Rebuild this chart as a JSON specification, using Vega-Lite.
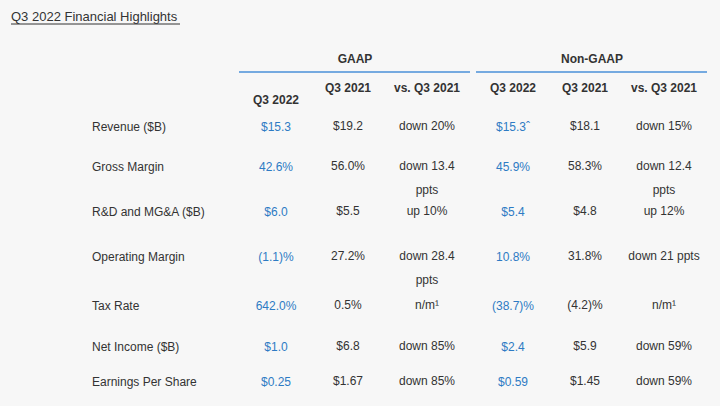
{
  "$schema": "https://vega.github.io/schema/vega-lite/v6.json",
  "width": 720,
  "height": 406,
  "autosize": {"type": "fit", "contains": "padding"},
  "padding": 0,
  "background": "#f7f7f7",
  "config": {"view": {"stroke": null}},
  "datasets": {
    "cells": [
      {"row": 0, "col": 0, "part": "title", "v": "Q3 2022 Financial Highlights"},
      {"row": 2, "col": 6, "part": "head", "v": "GAAP"},
      {"row": 2, "col": 12, "part": "head", "v": "Non-GAAP"},
      {"row": 5, "col": 4, "part": "head", "v": "Q3 2022"},
      {"row": 4, "col": 5, "part": "head", "v": "Q3 2021"},
      {"row": 4, "col": 7, "part": "head", "v": "vs. Q3 2021"},
      {"row": 4, "col": 10, "part": "head", "v": "Q3 2022"},
      {"row": 4, "col": 11, "part": "head", "v": "Q3 2021"},
      {"row": 4, "col": 13, "part": "head", "v": "vs. Q3 2021"},

      {"row": 6, "col": 1, "part": "label", "v": "Revenue ($B)"},
      {"row": 6, "col": 4, "part": "current", "v": "$15.3"},
      {"row": 6, "col": 5, "part": "prior", "v": "$19.2"},
      {"row": 6, "col": 7, "part": "prior", "v": "down 20%"},
      {"row": 6, "col": 10, "part": "current", "v": "$15.3ˆ"},
      {"row": 6, "col": 11, "part": "prior", "v": "$18.1"},
      {"row": 6, "col": 13, "part": "prior", "v": "down 15%"},

      {"row": 7, "col": 1, "part": "label", "v": "Gross Margin"},
      {"row": 7, "col": 4, "part": "current", "v": "42.6%"},
      {"row": 7, "col": 5, "part": "prior", "v": "56.0%"},
      {"row": 7, "col": 7, "part": "prior", "v": "down 13.4\nppts"},
      {"row": 7, "col": 10, "part": "current", "v": "45.9%"},
      {"row": 7, "col": 11, "part": "prior", "v": "58.3%"},
      {"row": 7, "col": 13, "part": "prior", "v": "down 12.4\nppts"},

      {"row": 8, "col": 1, "part": "label", "v": "R&D and MG&A ($B)"},
      {"row": 8, "col": 4, "part": "current", "v": "$6.0"},
      {"row": 8, "col": 5, "part": "prior", "v": "$5.5"},
      {"row": 8, "col": 7, "part": "prior", "v": "up 10%"},
      {"row": 8, "col": 10, "part": "current", "v": "$5.4"},
      {"row": 8, "col": 11, "part": "prior", "v": "$4.8"},
      {"row": 8, "col": 13, "part": "prior", "v": "up 12%"},

      {"row": 9, "col": 1, "part": "label", "v": "Operating Margin"},
      {"row": 9, "col": 4, "part": "current", "v": "(1.1)%"},
      {"row": 9, "col": 5, "part": "prior", "v": "27.2%"},
      {"row": 9, "col": 7, "part": "prior", "v": "down 28.4\nppts"},
      {"row": 9, "col": 10, "part": "current", "v": "10.8%"},
      {"row": 9, "col": 11, "part": "prior", "v": "31.8%"},
      {"row": 9, "col": 13, "part": "prior", "v": "down 21 ppts"},

      {"row": 10, "col": 1, "part": "label", "v": "Tax Rate"},
      {"row": 10, "col": 4, "part": "current", "v": "642.0%"},
      {"row": 10, "col": 5, "part": "prior", "v": "0.5%"},
      {"row": 10, "col": 7, "part": "prior", "v": "n/m¹"},
      {"row": 10, "col": 10, "part": "current", "v": "(38.7)%"},
      {"row": 10, "col": 11, "part": "prior", "v": "(4.2)%"},
      {"row": 10, "col": 13, "part": "prior", "v": "n/m¹"},

      {"row": 11, "col": 1, "part": "label", "v": "Net Income ($B)"},
      {"row": 11, "col": 4, "part": "current", "v": "$1.0"},
      {"row": 11, "col": 5, "part": "prior", "v": "$6.8"},
      {"row": 11, "col": 7, "part": "prior", "v": "down 85%"},
      {"row": 11, "col": 10, "part": "current", "v": "$2.4"},
      {"row": 11, "col": 11, "part": "prior", "v": "$5.9"},
      {"row": 11, "col": 13, "part": "prior", "v": "down 59%"},

      {"row": 12, "col": 1, "part": "label", "v": "Earnings Per Share"},
      {"row": 12, "col": 4, "part": "current", "v": "$0.25"},
      {"row": 12, "col": 5, "part": "prior", "v": "$1.67"},
      {"row": 12, "col": 7, "part": "prior", "v": "down 85%"},
      {"row": 12, "col": 10, "part": "current", "v": "$0.59"},
      {"row": 12, "col": 11, "part": "prior", "v": "$1.45"},
      {"row": 12, "col": 13, "part": "prior", "v": "down 59%"}
    ],
    "rules": [
      {"row": 1, "col": 0, "col2": 2, "part": "title"},
      {"row": 3, "col": 3, "col2": 8, "part": "GAAP"},
      {"row": 3, "col": 9, "col2": 14, "part": "Non-GAAP"}
    ]
  },
  "encoding": {
    "x": {
      "field": "col", "type": "quantitative", "axis": null,
      "scale": {
        "domain": [0, 1, 2, 3, 4, 5, 6, 7, 8, 9, 10, 11, 12, 13, 14],
        "range": [11, 92, 180, 239, 276, 348, 355, 427, 470, 476, 513, 585, 592, 664, 707],
        "nice": false, "zero": false
      }
    },
    "y": {
      "field": "row", "type": "quantitative", "axis": null,
      "scale": {
        "domain": [0, 1, 2, 3, 4, 5, 6, 7, 8, 9, 10, 11, 12],
        "range": [17, 24, 59, 72, 88, 100, 127, 167, 212, 257, 306, 347, 382],
        "nice": false, "zero": false
      }
    }
  },
  "layer": [
    {
      "data": {"name": "rules"},
      "transform": [{"filter": "datum.part === 'title'"}],
      "mark": {"type": "rule", "color": "#333333", "strokeWidth": 1},
      "encoding": {"x2": {"field": "col2"}}
    },
    {
      "data": {"name": "rules"},
      "transform": [{"filter": "datum.part !== 'title'"}],
      "mark": {"type": "rule", "color": "#4a90d9", "strokeWidth": 1.5},
      "encoding": {"x2": {"field": "col2"}}
    },
    {
      "data": {"name": "cells"},
      "transform": [{"filter": "datum.part === 'title'"}],
      "mark": {"type": "text", "align": "left", "baseline": "middle", "font": "Liberation Sans", "fontSize": 13, "color": "#333333"},
      "encoding": {"text": {"field": "v"}}
    },
    {
      "data": {"name": "cells"},
      "transform": [{"filter": "datum.part === 'head'"}],
      "mark": {"type": "text", "align": "center", "baseline": "middle", "font": "Liberation Sans", "fontSize": 12, "fontWeight": "bold", "color": "#333333"},
      "encoding": {"text": {"field": "v"}}
    },
    {
      "data": {"name": "cells"},
      "transform": [{"filter": "datum.part === 'label'"}],
      "mark": {"type": "text", "align": "left", "baseline": "middle", "font": "Liberation Sans", "fontSize": 12, "color": "#333333"},
      "encoding": {"text": {"field": "v"}}
    },
    {
      "data": {"name": "cells"},
      "transform": [{"filter": "datum.part === 'current'"}],
      "mark": {"type": "text", "align": "center", "baseline": "middle", "font": "Liberation Sans", "fontSize": 12, "color": "#2e7bc4"},
      "encoding": {"text": {"field": "v"}}
    },
    {
      "data": {"name": "cells"},
      "transform": [{"filter": "datum.part === 'prior'"}],
      "mark": {"type": "text", "align": "center", "baseline": "top", "dy": -6, "font": "Liberation Sans", "fontSize": 12, "color": "#333333", "lineBreak": "\n", "lineHeight": 24},
      "encoding": {"text": {"field": "v"}}
    }
  ]
}
